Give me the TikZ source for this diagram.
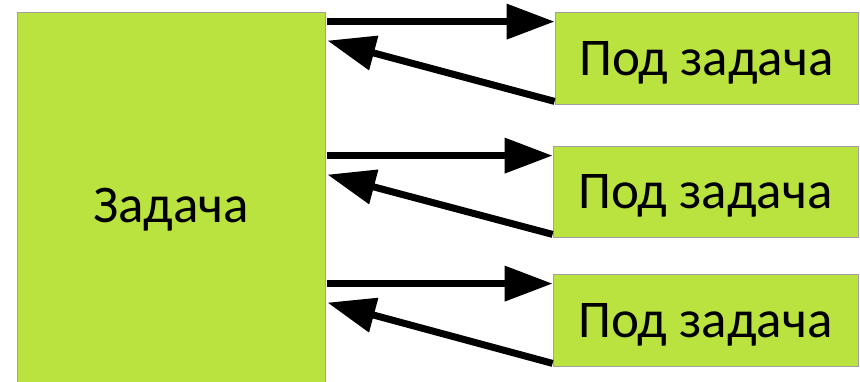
\documentclass[tikz,border=0pt]{standalone}
\usepackage{fontspec}
\setmainfont{Carlito}
\usetikzlibrary{arrows.meta}
\definecolor{lime}{RGB}{187,227,64}
\definecolor{edge}{RGB}{160,160,160}
\tikzset{
    box/.style={draw=edge, line width=0.8pt, fill=lime, inner sep=0pt,
        text depth=0pt, font=\fontsize{53}{60}\selectfont},
    fat/.style={line width=7pt, -{Triangle[length=48pt,width=34pt]}}
}

\begin{document}
\begin{tikzpicture}[x=1pt, y=-1pt]
    \useasboundingbox (0,0) rectangle (860,381);
    % Task
    \node [box, minimum width=308pt, minimum height=386pt] (task) at (171,205) {Задача};
    % Subtasks
    \node [box, minimum width=303pt, minimum height=92pt] (sub1) at (706.5,58) {Под задача};
    \node [box, minimum width=305pt, minimum height=91pt] (sub2) at (705.5,191.5) {Под задача};
    \node [box, minimum width=305pt, minimum height=92pt] (sub3) at (705.5,320) {Под задача};
    % Arrows
    \foreach \i in {1,2,3} {
        \draw [fat] ([xshift=2pt,yshift=-10pt]task.east |- sub\i.north) -- ([yshift=-10pt]sub\i.north west);
        \draw [fat] ([yshift=3pt]sub\i.south west) -- ([xshift=2pt,yshift=-29pt]task.east |- sub\i.north);
    }
\end{tikzpicture}
\end{document}
